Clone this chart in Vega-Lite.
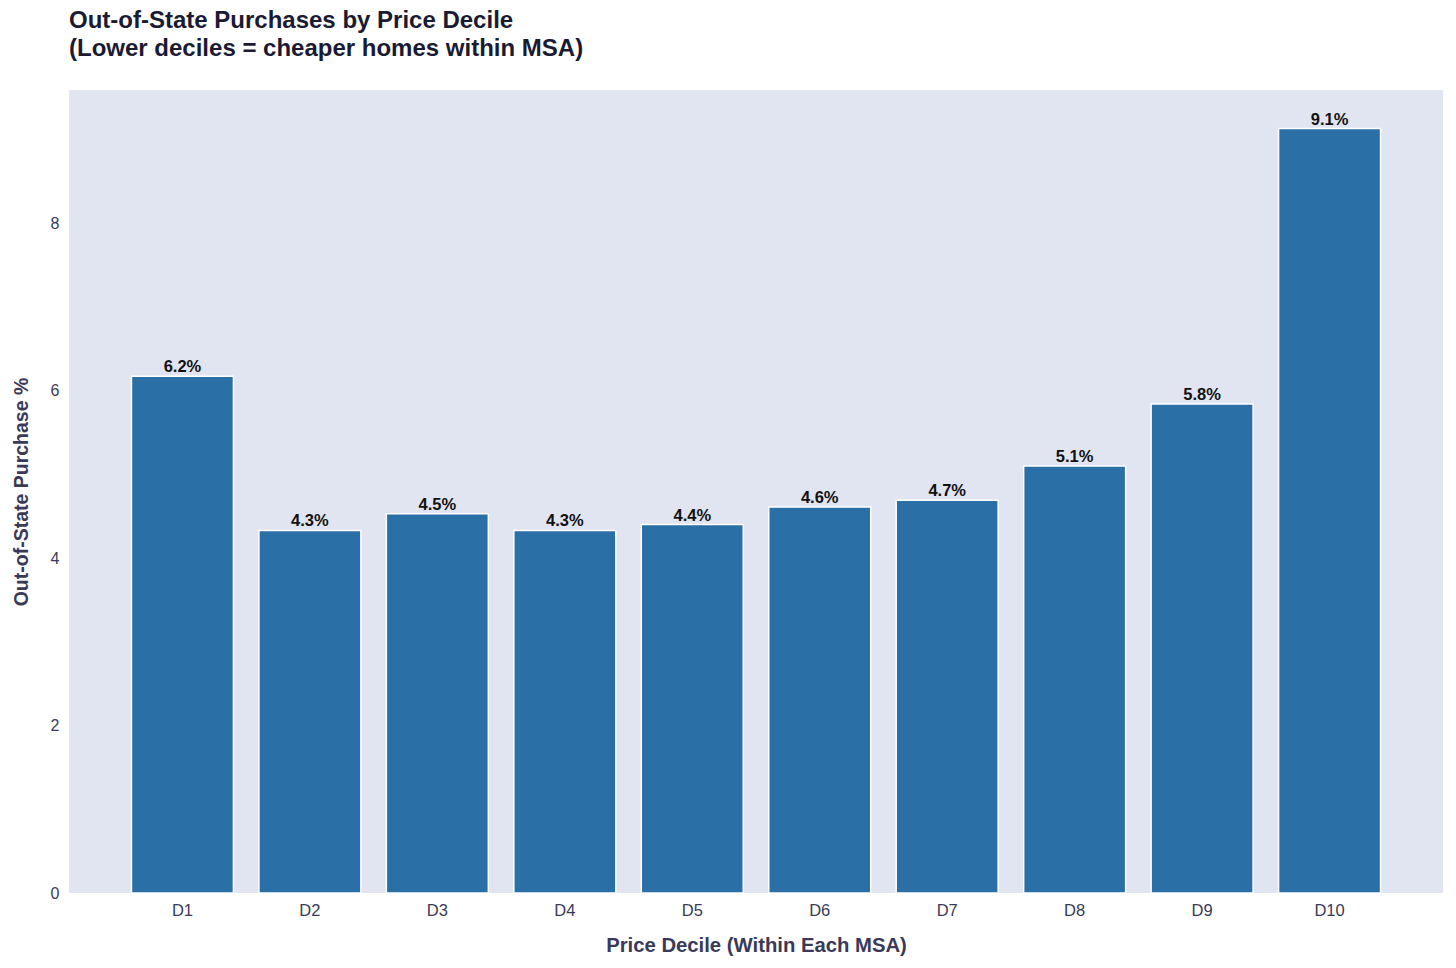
{
  "$schema": "https://vega.github.io/schema/vega-lite/v6.json",
  "autosize": {"type": "none"},
  "width": 1374,
  "height": 803,
  "padding": {"left": 69, "top": 90, "right": 13, "bottom": 75},
  "background": "white",
  "config": {
    "view": {"fill": "#e1e5f1", "stroke": null},
    "font": "Liberation Sans"
  },
  "title": {
    "text": ["Out-of-State Purchases by Price Decile", "(Lower deciles = cheaper homes within MSA)"],
    "anchor": "start",
    "frame": "group",
    "fontSize": 24,
    "fontWeight": "bold",
    "color": "#1a1a33",
    "lineHeight": 28,
    "offset": 29
  },
  "data": {
    "values": [
      {"decile": "D1", "pct": 6.17, "label": "6.2%"},
      {"decile": "D2", "pct": 4.33, "label": "4.3%"},
      {"decile": "D3", "pct": 4.53, "label": "4.5%"},
      {"decile": "D4", "pct": 4.33, "label": "4.3%"},
      {"decile": "D5", "pct": 4.40, "label": "4.4%"},
      {"decile": "D6", "pct": 4.61, "label": "4.6%"},
      {"decile": "D7", "pct": 4.69, "label": "4.7%"},
      {"decile": "D8", "pct": 5.10, "label": "5.1%"},
      {"decile": "D9", "pct": 5.84, "label": "5.8%"},
      {"decile": "D10", "pct": 9.13, "label": "9.1%"}
    ]
  },
  "encoding": {
    "x": {
      "field": "decile",
      "type": "nominal",
      "sort": null,
      "scale": {"paddingInner": 0.2, "paddingOuter": 0.49},
      "axis": {
        "title": "Price Decile (Within Each MSA)",
        "titleFontSize": 20.3,
        "titleFontWeight": "bold",
        "titleColor": "#3a3a58",
        "titlePadding": 17,
        "labelAngle": 0,
        "labelFontSize": 16.5,
        "labelColor": "#3a3a58",
        "labelPadding": 9,
        "ticks": false,
        "domain": false,
        "grid": false
      }
    },
    "y": {
      "field": "pct",
      "type": "quantitative",
      "scale": {"domain": [0, 9.59], "nice": false, "zero": true},
      "axis": {
        "title": "Out-of-State Purchase %",
        "titleFontSize": 19.5,
        "titleFontWeight": "bold",
        "titleColor": "#3a3a58",
        "titlePadding": 19,
        "values": [0, 2, 4, 6, 8],
        "labelFontSize": 16,
        "labelColor": "#3a3a58",
        "labelPadding": 10,
        "ticks": false,
        "domain": false,
        "grid": false
      }
    }
  },
  "layer": [
    {
      "mark": {"type": "bar", "color": "#2a6fa6", "stroke": "white", "strokeWidth": 1.5}
    },
    {
      "mark": {"type": "text", "baseline": "bottom", "dy": -1, "fontSize": 16.5, "fontWeight": "bold", "color": "#111111"},
      "encoding": {"text": {"field": "label"}}
    }
  ]
}
